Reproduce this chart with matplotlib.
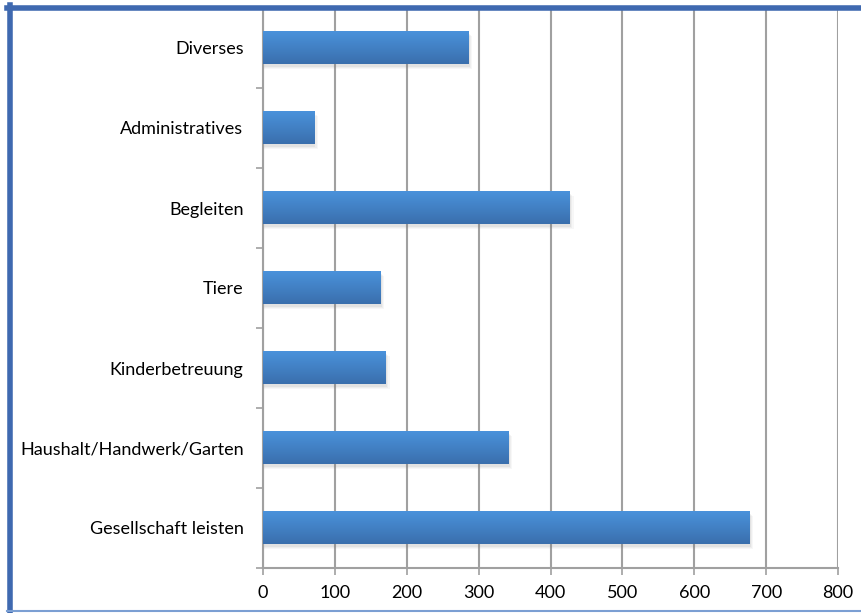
import numpy as np
import matplotlib
matplotlib.use("Agg")
import matplotlib.pyplot as plt
from matplotlib.patches import Rectangle
from matplotlib.lines import Line2D
from matplotlib.colors import LinearSegmentedColormap

categories = ["Gesellschaft leisten", "Haushalt/Handwerk/Garten", "Kinderbetreuung",
              "Tiere", "Begleiten", "Administratives", "Diverses"]
values = [677, 342, 171, 163, 427, 71, 286]
xticks = [0, 100, 200, 300, 400, 500, 600, 700, 800]

plt.rcParams['font.family'] = ['Lato', 'DejaVu Sans']

fig = plt.figure(figsize=(8.61, 6.13), dpi=100)
ax = fig.add_axes([263 / 861, 45 / 613, 575 / 861, 560 / 613])

grad = LinearSegmentedColormap.from_list("bar", ["#3a6fad", "#4a92db"])
g = np.linspace(0, 1, 64).reshape(-1, 1)
h = 0.41
ypos = np.arange(len(categories))

for y, v in zip(ypos, values):
    # soft shadow
    for k, a in enumerate([0.10, 0.08, 0.06]):
        ax.add_patch(Rectangle((0, y - h / 2 - 0.03 - k * 0.012), v + 2 + k * 1.5, h,
                               facecolor="#808080", alpha=a, edgecolor="none", zorder=2))
    ax.imshow(g, extent=[0, v, y - h / 2, y + h / 2], origin="lower", cmap=grad,
              aspect="auto", zorder=3, interpolation="bilinear")

ax.set_xlim(0, 800)
ax.set_ylim(-0.5, len(categories) - 0.5)
ax.set_xticks(xticks)
ax.set_xticklabels([str(t) for t in xticks])
ax.set_yticks(ypos)
ax.set_yticklabels(categories)
ax.set_yticks(np.arange(-0.5, len(categories)), minor=True)

ax.grid(axis="x", color="#a0a0a0", linewidth=1.5)
ax.set_axisbelow(True)
for s in ["top", "right"]:
    ax.spines[s].set_visible(False)
for s in ["left", "bottom"]:
    ax.spines[s].set_color("#a0a0a0")
    ax.spines[s].set_linewidth(1.5)

ax.tick_params(axis="y", which="major", length=0, pad=14, labelsize=13)
ax.tick_params(axis="y", which="minor", length=5, width=1.2, color="#a0a0a0")
ax.tick_params(axis="x", length=5, width=1.2, color="#a0a0a0", pad=7, labelsize=13)

# outer frame
fig.add_artist(Line2D([9.5 / 861, 9.5 / 861], [2 / 613, 608 / 613], color="#3f69b0",
                      linewidth=4, transform=fig.transFigure))
fig.add_artist(Line2D([7 / 861, 1], [605.5 / 613, 605.5 / 613], color="#3f69b0",
                      linewidth=4, transform=fig.transFigure))
fig.add_artist(Line2D([7 / 861, 1], [2.5 / 613, 2.5 / 613], color="#7b9fd3",
                      linewidth=1.5, transform=fig.transFigure))

fig.savefig("out.png", dpi=100)
